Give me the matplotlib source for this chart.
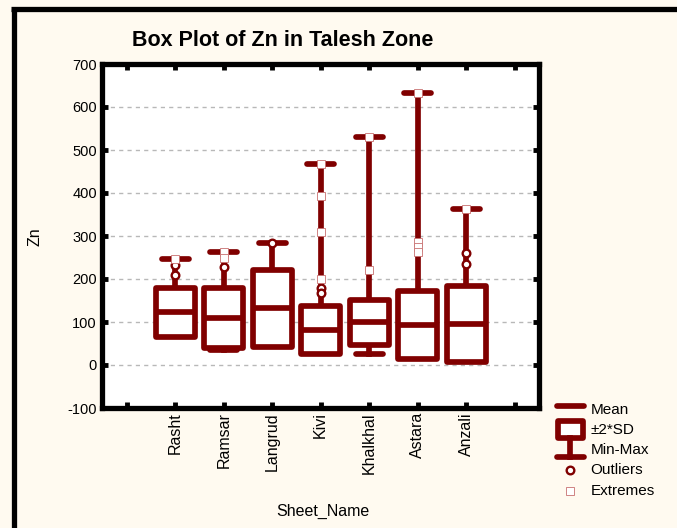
import numpy as np
import matplotlib.pyplot as plt
from matplotlib.patches import Rectangle
from matplotlib.lines import Line2D

plt.rcParams['font.family'] = ['Liberation Sans', 'DejaVu Sans']

# values (Zn, per sheet)
sheets = ['Rasht', 'Ramsar', 'Langrud', 'Kivi', 'Khalkhal', 'Astara', 'Anzali']
means = [123, 110, 132, 81, 99, 92, 96]
sds = [28.5, 35, 44.5, 28, 26, 39.5, 44]
mins = [70, 34, 45, 27, 26, 14, 9]
maxs = [246, 263, 283, 467, 531, 632, 362]
outliers = [[232, 210], [229], [283], [178, 168], [], [], [260, 234]]
extremes = [[246], [263, 248], [], [467, 394, 310, 201], [531, 221],
            [632, 287, 275, 263], [362]]
yticks = list(range(-100, 701, 100))

dark = '#800000'
bg = '#FFFAF0'
lw = 4.1
bw = 0.8   # box width
cw = 0.55  # cap width

W, H = 677, 528
def fx(p):
    return p / W
def fy(p):
    return 1 - p / H

fig = plt.figure(figsize=(W / 100, H / 100), dpi=100, facecolor=bg)
ax = fig.add_axes([fx(102.5), fy(408), (539 - 102.5) / W, (408 - 64) / H])
ax.set_facecolor('white')

for i, name in enumerate(sheets):
    x = i + 1
    lo = means[i] - 2 * sds[i]
    hi = means[i] + 2 * sds[i]
    # min-max whiskers
    ax.plot([x, x], [hi, maxs[i]], color=dark, lw=lw, zorder=3)
    ax.plot([x - cw / 2, x + cw / 2], [maxs[i]] * 2, color=dark, lw=lw,
            solid_capstyle='round', zorder=3)
    if mins[i] < lo:
        ax.plot([x, x], [mins[i], lo], color=dark, lw=lw, zorder=3)
        ax.plot([x - cw / 2, x + cw / 2], [mins[i]] * 2, color=dark, lw=lw,
                solid_capstyle='round', zorder=3)
    # +-2*SD box
    ax.add_patch(Rectangle((x - bw / 2, lo), bw, hi - lo, fc='white', ec=dark,
                           lw=lw, joinstyle='round', zorder=4))
    # mean
    ax.plot([x - bw / 2, x + bw / 2], [means[i]] * 2, color=dark, lw=lw,
            solid_capstyle='butt', zorder=5)
    if outliers[i]:
        ax.plot([x] * len(outliers[i]), outliers[i], 'o', ms=5.5, mfc='white',
                mec=dark, mew=1.7, zorder=6)
    if extremes[i]:
        ax.plot([x] * len(extremes[i]), extremes[i], 's', ms=5.5, mfc='white',
                mec='#c87070', mew=0.6, zorder=6)

ax.set_xlim(-0.5, 8.5)
ax.set_ylim(-100, 700)
ax.set_xticks(range(len(sheets) + 2))
ax.set_xticklabels([''] + sheets + [''], rotation=90, fontsize=11.5)
ax.set_yticks(yticks)
ax.set_yticklabels([str(v) for v in yticks], fontsize=10.5)
ax.tick_params(direction='in', length=4.5, width=3.5, top=True, right=True,
               color='black', pad=4)
ax.tick_params(axis='x', pad=3)
for s in ax.spines.values():
    s.set_linewidth(3.8)
    s.set_color('black')
ax.yaxis.grid(True, ls=(0, (3, 3)), color='#b8b8b8', lw=1)
ax.set_axisbelow(True)

fig.text(fx(282.5), fy(40), 'Box Plot of Zn in Talesh Zone', fontsize=15.5,
         fontweight='bold', ha='center', va='center')
fig.text(fx(35), fy(237), 'Zn', fontsize=11.5, rotation=90, ha='center', va='center')
fig.text(fx(323), fy(511), 'Sheet_Name', fontsize=11.5, ha='center', va='center')

# legend symbol
def fline(xs, ys, **kw):
    fig.add_artist(Line2D([fx(v) for v in xs], [fy(v) for v in ys],
                          transform=fig.transFigure, **kw))

fline([556.5, 583.5], [406, 406], color=dark, lw=lw, solid_capstyle='round')
fline([569.5, 569.5], [438, 456.5], color=dark, lw=lw)
fline([556.5, 583.5], [456.5, 456.5], color=dark, lw=lw, solid_capstyle='round')
fig.add_artist(Rectangle((fx(557.5), fy(437.5)), 25 / W, 17 / H, fc='white',
                         ec=dark, lw=lw, joinstyle='round',
                         transform=fig.transFigure))
fline([569.5], [470], ls='none', marker='o', ms=5.5, mfc='white', mec=dark, mew=1.7)
fline([569.5], [491], ls='none', marker='s', ms=5.5, mfc='white', mec='#c87070', mew=0.6)
for lab, yy in zip(['Mean', '\u00b12*SD', 'Min-Max', 'Outliers', 'Extremes'],
                   [410, 430, 450.5, 470.5, 491]):
    fig.text(fx(590.5), fy(yy), lab, fontsize=11, ha='left', va='center')

# page border
fline([13.5, 13.5], [8.5, H], color='black', lw=3.8, solid_capstyle='butt')
fline([11, W], [8.5, 8.5], color='black', lw=3.8, solid_capstyle='butt')

fig.savefig('out.png', dpi=100, facecolor=bg)
